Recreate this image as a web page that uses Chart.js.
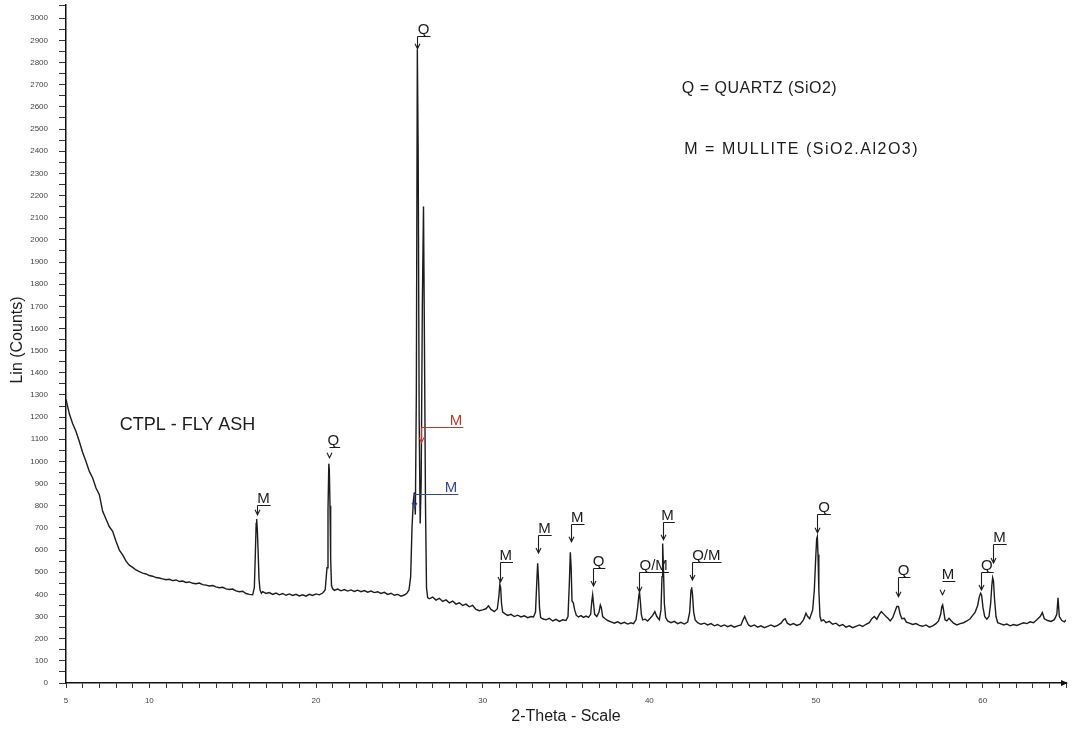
<!DOCTYPE html>
<html>
<head>
<meta charset="utf-8">
<title>CTPL - FLY ASH</title>
<script src="https://cdn.jsdelivr.net/npm/chart.js@4.4.1/dist/chart.umd.min.js"></script>
<style>
  html, body { margin: 0; padding: 0; background: #fff; }
</style>
</head>
<body>
<canvas id="xrd" width="1074" height="733"></canvas>
<script>
// ---- diffraction trace ----
const twoTheta = [
  5.0, 5.2, 5.4, 5.6, 5.8, 6.0, 6.2, 6.4, 6.6, 6.8, 7.0, 7.2, 7.4, 7.6, 7.8, 8.0, 8.2, 8.4, 8.6, 8.8,
  9.0, 9.2, 9.4, 9.6, 9.8, 10.0, 10.2, 10.4, 10.6, 10.8, 11.0, 11.2, 11.4, 11.6, 11.8, 12.0, 12.2, 12.4, 12.6, 12.8,
  13.0, 13.2, 13.4, 13.6, 13.8, 14.0, 14.2, 14.4, 14.6, 14.8, 15.0, 15.2, 15.4, 15.6, 15.8, 16.0, 16.2, 16.3,
  16.36, 16.41, 16.44, 16.48, 16.52, 16.58, 16.64, 16.72,
  16.8, 17.0, 17.2, 17.4, 17.6, 17.8, 18.0, 18.2, 18.4, 18.6, 18.8, 19.0, 19.2, 19.4, 19.6, 19.8, 20.0, 20.2, 20.4, 20.55,
  20.66, 20.72, 20.77, 20.80, 20.84, 20.88, 20.93, 21.0,
  21.1, 21.3, 21.5, 21.7, 21.9, 22.1, 22.3, 22.5, 22.7, 22.9, 23.1, 23.3, 23.5, 23.7, 23.9, 24.1, 24.3, 24.5, 24.7, 24.9,
  25.1, 25.3, 25.45, 25.58,
  25.68, 25.76, 25.84, 25.90, 25.96, 26.02, 26.08, 26.13, 26.19, 26.25, 26.31, 26.38, 26.45, 26.51, 26.57, 26.63, 26.70,
  26.8, 27.0, 27.2, 27.4, 27.6, 27.8, 28.0, 28.2, 28.4, 28.6, 28.8, 29.0, 29.2, 29.4, 29.6, 29.8, 30.0, 30.2, 30.35, 30.5, 30.7,
  30.88, 30.97, 31.03, 31.08, 31.13, 31.2,
  31.35, 31.5, 31.7, 31.9, 32.1, 32.3, 32.5, 32.7, 32.9, 33.05,
  33.17, 33.25, 33.30, 33.35, 33.41, 33.48,
  33.6, 33.8, 34.0, 34.2, 34.4, 34.6, 34.8, 35.0, 35.12,
  35.2, 35.26, 35.31, 35.36, 35.44, 35.52, 35.62,
  35.75, 35.9, 36.05, 36.2, 36.35, 36.48,
  36.55, 36.6, 36.65, 36.72, 36.85, 36.98, 37.06, 37.12, 37.2,
  37.35, 37.5, 37.7, 37.9, 38.1, 38.3, 38.5, 38.7, 38.9, 39.05, 39.2,
  39.3, 39.37, 39.41, 39.46, 39.52, 39.6,
  39.75, 39.9, 40.05, 40.2, 40.33, 40.45, 40.6,
  40.7, 40.76, 40.8, 40.84, 40.9, 40.98,
  41.1, 41.3, 41.5, 41.7, 41.9, 42.1, 42.3,
  42.42, 42.5, 42.54, 42.59, 42.66, 42.75,
  42.9, 43.1, 43.3, 43.5, 43.7, 43.9, 44.1, 44.3, 44.5, 44.7, 44.9, 45.1, 45.3, 45.5, 45.62, 45.72, 45.82, 45.95,
  46.1, 46.3, 46.5, 46.7, 46.9, 47.1, 47.3, 47.5, 47.7, 47.9, 48.05, 48.15, 48.28, 48.45, 48.65, 48.85, 49.05, 49.25, 49.4, 49.5, 49.62,
  49.8, 49.9, 49.98, 50.04, 50.08, 50.12, 50.17, 50.24, 50.32,
  50.45, 50.6, 50.8, 51.0, 51.2, 51.4, 51.6, 51.8, 52.0, 52.2, 52.4, 52.6, 52.8, 53.0, 53.2, 53.35, 53.5, 53.65, 53.8, 53.92,
  54.05, 54.2, 54.32, 54.45, 54.6,
  54.75, 54.85, 54.95, 55.05, 55.15, 55.3, 55.42,
  55.6, 55.8, 56.0, 56.2, 56.4, 56.6, 56.8, 57.0, 57.2, 57.35,
  57.48, 57.55, 57.6, 57.66, 57.74, 57.85, 57.98, 58.1,
  58.25, 58.45, 58.65, 58.85, 59.05, 59.25, 59.4,
  59.55, 59.7, 59.8, 59.88, 59.94, 60.02, 60.12, 60.25,
  60.38, 60.48, 60.55, 60.6, 60.65, 60.71, 60.8, 60.9,
  61.05, 61.25, 61.45, 61.65, 61.85, 62.05, 62.25, 62.45, 62.65, 62.85, 63.05, 63.25, 63.45, 63.58, 63.7, 63.9,
  64.1, 64.3, 64.45, 64.52, 64.6, 64.75, 64.9, 65.0
];
const counts = [
  1280, 1215, 1170, 1135, 1090, 1040, 1000, 955, 925, 880, 850, 775, 740, 705, 685, 640, 600, 578, 550, 532,
  522, 510, 503, 496, 492, 485, 482, 476, 474, 470, 466, 468, 462, 465, 458, 460, 454, 456, 450, 448,
  451, 444, 442, 438, 440, 434, 430, 432, 425, 422, 424, 416, 412, 414, 404, 400, 398, 430,
  580, 720, 740, 690, 610, 470, 420, 405,
  412, 404, 408, 400, 406, 398, 404, 396, 402, 395, 400, 393, 398, 392, 400, 395, 402, 398, 406, 420,
  520, 780, 990, 960, 800, 560, 440, 425,
  418, 424, 416, 422, 415, 420, 413, 419, 412, 417, 410, 415, 408, 412, 404, 409, 400, 405, 396, 400,
  392, 397, 405, 420,
  480, 700, 820, 860, 760, 1300, 2860, 2400, 1200, 720, 900, 1700, 2150, 1500, 800, 430, 385,
  380, 388, 374, 382, 368, 375, 362, 370, 356, 362, 350, 356, 344, 350, 332, 326, 330, 335, 348, 332, 322,
  335, 390, 445, 430, 360, 320,
  312, 305, 310, 300, 306, 298, 303, 295, 300, 298,
  320, 460, 540, 470, 340, 295,
  290, 285, 292, 280, 287, 278, 285, 282, 300,
  450, 590, 520, 370, 362, 330, 305,
  298, 304, 296, 302, 296, 310,
  370, 398, 360, 310, 300, 320, 352, 340, 300,
  290, 282, 276, 270, 276, 268, 274, 266, 272, 268, 285,
  340, 395, 410, 370, 310, 285,
  288, 280, 292, 305, 322, 300, 285,
  330, 480, 630, 540, 360, 295,
  280, 272, 278, 268, 274, 266, 275,
  320, 420, 432, 400, 320, 285,
  272, 265, 270, 262, 268, 258, 264, 255, 262, 254, 260, 252, 258, 262, 285, 300, 282, 262,
  255, 262, 252, 258, 250, 256, 262, 254, 260, 270, 285, 290, 270, 262, 268, 260, 266, 285, 315, 300, 290,
  330, 420, 560, 650, 660, 580, 420, 300, 280,
  285, 272, 278, 265, 270, 258, 264, 252, 258, 250, 256, 262, 255, 265, 272, 290, 300, 288, 310, 322,
  312, 300, 292, 280, 295,
  325, 345, 345, 310, 290, 292, 275,
  270, 264, 268, 260, 256, 262, 252, 258, 268, 280,
  310, 345, 352, 325, 285, 280, 292, 282,
  270, 262, 268, 272, 280, 290, 305,
  320, 350, 390, 405, 395, 340, 300, 288,
  300, 360, 440, 475, 460, 380, 300, 272,
  268, 262, 266, 258, 264, 260, 266, 272, 268, 276, 272, 285, 300, 318, 290, 282,
  278, 286, 310, 384, 300, 282, 276, 285
];

// ---- axis ticks ----
const xMin = 5, xMax = 65, xLabelled = [5, 10, 20, 30, 40, 50, 60];
const yMin = 0, yMax = 3060, yLabelTop = 3000;

// ---- phase labels: stem position, text, underline end, bracket level, arrow tip ----
const labelTheta = [16.44, 20.79, 26.08, 26.28, 25.90, 31.04, 33.31, 35.27, 36.60, 39.41, 40.80, 42.54, 50.07, 54.90, 57.58, 59.90, 60.62];
const labelText  = ['M', 'Q', 'Q', 'M', 'M', 'M', 'M', 'M', 'Q', 'Q/M', 'M', 'Q/M', 'Q', 'Q', 'M', 'Q', 'M'];
const labelEnd   = [17.28, 21.45, 26.87, 28.84, 28.54, 31.82, 34.14, 36.11, 37.36, 41.17, 41.53, 44.33, 50.89, 55.66, 58.36, 60.66, 61.44];
const labelTop   = [804, 1066, 2919, 1157, 854, 547, 669, 718, 520, 502, 728, 547, 764, 479, 461, 502, 628];
const labelTip   = [759, 1017, 2862, 1085, 791, 456, 587, 637, 438, 412, 646, 465, 678, 389, 398, 420, 542];
const labelStem  = [true, false, true, true, true, true, true, true, true, true, true, true, true, true, false, true, true];

const phaseKey = ['Q = QUARTZ (SiO2)', 'M = MULLITE (SiO2.Al2O3)'];
const sampleName = 'CTPL - FLY ASH';

// colours for the two hand-marked labels near the main peak
const INK = '#1c1c1c';
const labelInk = { 3: '#c0392b', 4: '#34479a' };
const FONT = '"Liberation Sans", Arial, sans-serif';

const tracePoints = twoTheta.map((t, i) => ({ x: t, y: counts[i] }));

const xrdOverlay = {
  id: 'xrdOverlay',
  afterDatasetsDraw(chart) {
    const ctx = chart.ctx;
    const xs = chart.scales.x, ys = chart.scales.y;
    ctx.save();

    // phase labels with bracket arrows
    ctx.font = '15px ' + FONT;
    ctx.lineWidth = 1.1;
    labelTheta.forEach((t, i) => {
      const color = labelInk[i] || INK;
      const xs0 = Math.round(xs.getPixelForValue(t)) + 0.5;
      const xe = xs.getPixelForValue(labelEnd[i]);
      const yt = Math.round(ys.getPixelForValue(labelTop[i])) + 0.5;
      const yp = ys.getPixelForValue(labelTip[i]);
      ctx.strokeStyle = color;
      ctx.fillStyle = color;
      ctx.beginPath();
      ctx.moveTo(xs0, yt);
      ctx.lineTo(xe, yt);
      if (labelStem[i]) {
        ctx.moveTo(xs0, yt);
        ctx.lineTo(xs0, yp);
      }
      ctx.moveTo(xs0 - 2.5, yp - 5);
      ctx.lineTo(xs0, yp);
      ctx.lineTo(xs0 + 2.5, yp - 5);
      ctx.stroke();
      ctx.textAlign = 'right';
      ctx.textBaseline = 'alphabetic';
      ctx.fillText(labelText[i], xe - 1, yt - 3);
    });

    // sample name and phase key
    ctx.fillStyle = INK;
    ctx.textAlign = 'left';
    ctx.font = '18px ' + FONT;
    ctx.fillText(sampleName, xs.getPixelForValue(8.22), ys.getPixelForValue(1143));
    ctx.font = '16px ' + FONT;
    ctx.letterSpacing = '0.5px';
    ctx.fillText(phaseKey[0], xs.getPixelForValue(41.95), ys.getPixelForValue(2662));
    ctx.letterSpacing = '1.5px';
    ctx.fillText(phaseKey[1], xs.getPixelForValue(42.1), ys.getPixelForValue(2386));
    ctx.letterSpacing = '0px';

    // axis titles
    const area = chart.chartArea;
    ctx.font = '16px ' + FONT;
    ctx.textAlign = 'center';
    ctx.textBaseline = 'middle';
    ctx.fillText('2-Theta - Scale', (area.left + area.right) / 2, 717);
    ctx.save();
    ctx.translate(18, 340);
    ctx.rotate(-Math.PI / 2);
    ctx.fillText('Lin (Counts)', 0, 0);
    ctx.restore();

    // arrow head at the end of the x axis
    ctx.fillStyle = '#111';
    ctx.beginPath();
    ctx.moveTo(area.right + 2, area.bottom);
    ctx.lineTo(area.right - 5, area.bottom - 3);
    ctx.lineTo(area.right - 5, area.bottom + 3);
    ctx.closePath();
    ctx.fill();

    ctx.restore();
  }
};

new Chart(document.getElementById('xrd'), {
  type: 'line',
  data: {
    datasets: [{
      data: tracePoints,
      borderColor: INK,
      borderWidth: 1.4,
      pointRadius: 0,
      tension: 0,
      fill: false
    }]
  },
  options: {
    responsive: false,
    animation: false,
    parsing: false,
    layout: { padding: { top: 5, right: 2, left: 0, bottom: 0 } },
    plugins: { legend: { display: false }, tooltip: { enabled: false } },
    scales: {
      x: {
        type: 'linear',
        min: xMin,
        max: xMax,
        afterFit(scale) { scale.height = 50; },
        ticks: {
          stepSize: 1,
          autoSkip: false,
          maxRotation: 0,
          padding: 8,
          color: '#444',
          font: { size: 8, family: FONT },
          callback: v => (xLabelled.includes(v) ? String(v) : '')
        },
        grid: { drawOnChartArea: false, drawTicks: true, tickLength: 5, color: '#333' },
        border: { display: true, color: '#111', width: 1.5 }
      },
      y: {
        min: yMin,
        max: yMax,
        afterFit(scale) {
          scale.width = 66;
          scale.paddingTop = 0;
          scale.paddingBottom = 0;
        },
        ticks: {
          stepSize: 50,
          autoSkip: false,
          padding: 11,
          color: '#444',
          font: { size: 8, family: FONT },
          callback: v => (v % 100 === 0 && v <= yLabelTop ? String(v) : '')
        },
        grid: { drawOnChartArea: false, drawTicks: true, tickLength: 7, color: '#333' },
        border: { display: true, color: '#111', width: 1.5 }
      }
    }
  },
  plugins: [xrdOverlay]
});
</script>
</body>
</html>
